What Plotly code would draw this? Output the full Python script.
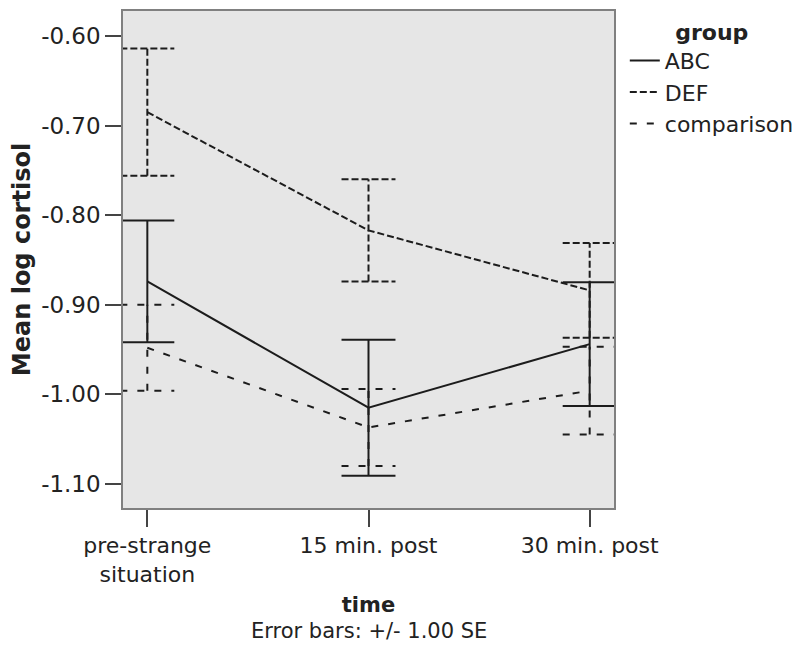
import plotly.graph_objects as go

times = ["pre-strange<br>situation", "15 min. post", "30 min. post"]
groups = ["ABC", "DEF", "comparison"]
abc_mean = [-0.874, -1.015, -0.944]
abc_se = [0.068, 0.076, 0.069]
def_mean = [-0.685, -0.817, -0.884]
def_se = [0.071, 0.057, 0.053]
cmp_mean = [-0.948, -1.037, -0.996]
cmp_se = [0.048, 0.043, 0.049]
y_ticks = [-0.60, -0.70, -0.80, -0.90, -1.00, -1.10]
y_ticktext = ["-0.60", "-0.70", "-0.80", "-0.90", "-1.00", "-1.10"]

FONT = "DejaVu Sans"
INK = "#1c1c1c"
CAP = 0.122  # half width of error bar caps, in x units

def err_bars(means, ses):
    xs, ys = [], []
    for i, (m, s) in enumerate(zip(means, ses)):
        lo, hi = m - s, m + s
        xs += [i, i, None, i - CAP, i + CAP, None, i - CAP, i + CAP, None]
        ys += [lo, hi, None, lo, lo, None, hi, hi, None]
    return xs, ys

series = [
    ("ABC", abc_mean, abc_se, "solid"),
    ("DEF", def_mean, def_se, "7px,3px"),
    ("comparison", cmp_mean, cmp_se, "7px,10px"),
]

fig = go.Figure()
x = list(range(len(times)))
for name, m, s, dash in series:
    ex, ey = err_bars(m, s)
    fig.add_trace(go.Scatter(x=ex, y=ey, mode='lines', showlegend=False, hoverinfo='skip',
        line=dict(color=INK, width=2, dash=dash), legendgroup=name))
    fig.add_trace(go.Scatter(x=x, y=m, mode='lines', name=name, legendgroup=name,
        line=dict(color=INK, width=2, dash=dash)))

# page body adds an 8px offset, so margins are shifted to compensate
fig.update_layout(
    width=800, height=657, paper_bgcolor='white', plot_bgcolor='#e6e6e6',
    font=dict(family=FONT, size=22, color='#222'),
    margin=dict(l=113, r=194, t=1, b=157),
    showlegend=True,
    legend=dict(x=1.022, y=1.0, xanchor='left', yanchor='top', tracegroupgap=0,
        title=dict(text='<b>group</b>', side='top center', font=dict(size=22)),
        font=dict(size=22), itemwidth=30, bgcolor='rgba(0,0,0,0)'),
    xaxis=dict(range=[-0.11, 2.11], tickvals=x, ticktext=times, ticks='outside', ticklen=17,
        tickcolor='#444', tickwidth=1.5, showgrid=False, zeroline=False,
        showline=True, linecolor='#808080', linewidth=1.5, mirror=True,
        tickfont=dict(size=22),
        title=dict(text='<b>time</b>', font=dict(size=21), standoff=12)),
    yaxis=dict(range=[-1.127, -0.572], tickvals=y_ticks, ticktext=y_ticktext, ticks='outside',
        ticklen=16, tickcolor='#444', tickwidth=1.5, showgrid=False, zeroline=False,
        showline=True, linecolor='#808080', linewidth=1.5, mirror=True,
        tickfont=dict(size=23),
        title=dict(text='<b>Mean log cortisol</b>', font=dict(size=24), standoff=15)),
    annotations=[dict(text='Error bars: +/- 1.00 SE', x=0.5, y=-0.248, xref='paper', yref='paper',
        showarrow=False, xanchor='center', yanchor='middle', font=dict(size=21))],
)

fig.write_html("out.html")
